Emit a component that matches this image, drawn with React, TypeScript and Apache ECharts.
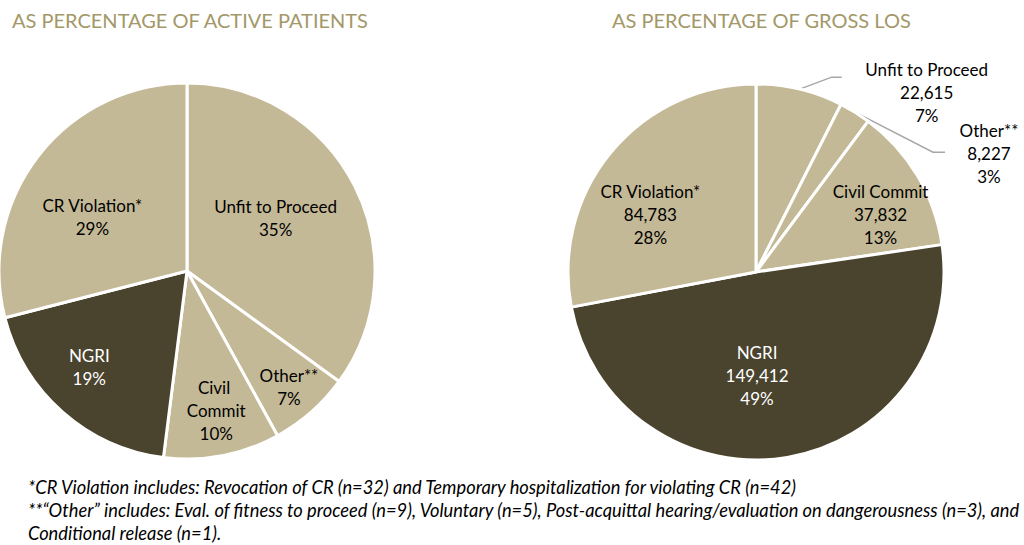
import React, { useEffect, useRef } from "react";
import * as echarts from "echarts";

// ---------- data ----------
const categories = ["Unfit to Proceed", "Other**", "Civil Commit", "NGRI", "CR Violation*"];
const activePatientsPct = [35, 7, 10, 19, 29];
const grossLos = [22615, 8227, 37832, 149412, 84783];
const grossLosPct = [7, 3, 13, 49, 28];
const chartTitles = ["AS PERCENTAGE OF ACTIVE PATIENTS", "AS PERCENTAGE OF GROSS LOS"];
const footnotes = [
  "*CR Violation includes: Revocation of CR (n=32) and Temporary hospitalization for violating CR (n=42)",
  "**\u201cOther\u201d includes: Eval. of fitness to proceed (n=9), Voluntary (n=5), Post-acquittal hearing/evaluation on dangerousness (n=3), and",
  "Conditional release (n=1).",
];

// ---------- styling ----------
const TAN = "#C4B996";
const DARK = "#4A432D";
const sliceColors = [TAN, TAN, TAN, DARK, TAN];
const labelColors = ["#000", "#000", "#000", "#fff", "#000"];
const TITLE_COLOR = "#A39868";
const FONT = "Lato, 'Open Sans', sans-serif";

const PIE_R = 188;
const LEFT_C = [187, 271];
const RIGHT_C = [756, 272];

// inside label placement: [fraction of radius, angle shift (deg)]
const leftPlace: (number[] | null)[] = [[0.55, -4], [0.82, 0], [0.76, -1], [0.73, 4], [0.58, -8]];
const rightPlace: (number[] | null)[] = [null, null, [0.73, 6], [0.55, 9], [0.64, -11]];
// outside labels (right pie): elbow, end of leader, label centre, relative to slice anchor
const rightOutside: Record<number, { elbow: number[]; end: number[]; label: number[] }> = {
  0: { elbow: [32, -12], end: [42, -12], label: [127, 3] },
  1: { elbow: [78, 40], end: [90, 40], label: [134, 41] },
};

function midAngles(values: number[]) {
  const total = values.reduce((a, b) => a + b, 0);
  let cum = 0;
  return values.map((v) => {
    const a = ((cum + v / 2) / total) * Math.PI * 2;
    cum += v;
    return a;
  });
}

function makeLayout(values: number[], c: number[], place: (number[] | null)[], outside: Record<number, any>) {
  const mids = midAngles(values);
  return (params: any) => {
    const i = params.dataIndex;
    const a = mids[i];
    const p = place[i];
    if (p) {
      const ang = a + (p[1] * Math.PI) / 180;
      return {
        x: c[0] + p[0] * PIE_R * Math.sin(ang),
        y: c[1] - p[0] * PIE_R * Math.cos(ang),
        align: "center",
        verticalAlign: "middle",
      };
    }
    const o = outside[i];
    const ax = c[0] + PIE_R * Math.sin(a);
    const ay = c[1] - PIE_R * Math.cos(a);
    return {
      x: ax + o.label[0],
      y: ay + o.label[1],
      align: "center",
      verticalAlign: "middle",
      labelLinePoints: [
        [ax, ay],
        [ax + o.elbow[0], ay + o.elbow[1]],
        [ax + o.end[0], ay + o.end[1]],
      ],
    };
  };
}

export default function App() {
  const ref = useRef<HTMLDivElement>(null);
  useEffect(() => {
    if (!ref.current) return;
    const chart = echarts.init(ref.current, undefined, { renderer: "svg" });

    const leftData = categories.map((name, i) => ({
      name,
      value: activePatientsPct[i],
      itemStyle: { color: sliceColors[i] },
      label: {
        color: labelColors[i],
        ...(name === "Civil Commit" ? { width: 70, overflow: "break" } : {}),
      },
    }));

    const rightData = categories.map((name, i) => ({
      name,
      value: grossLos[i],
      itemStyle: { color: sliceColors[i] },
      label: {
        color: labelColors[i],
        position: rightOutside[i] ? "outside" : "inside",
      },
      labelLine: { show: !!rightOutside[i] },
    }));

    const baseLabel = {
      fontFamily: FONT,
      fontSize: 17,
      lineHeight: 23,
    };

    const titleStyle = { color: TITLE_COLOR, fontFamily: FONT, fontSize: 20, fontWeight: "normal" };

    chart.setOption({
      animation: false,
      backgroundColor: "#fff",
      title: [
        { text: chartTitles[0], left: 7, top: 5, textStyle: titleStyle },
        { text: chartTitles[1], left: 607, top: 5, textStyle: titleStyle },
      ],
      graphic: footnotes.map((t, i) => ({
        type: "text",
        left: 28,
        top: 478 + i * 23,
        style: {
          text: t,
          fill: "#000",
          font: `italic 18.3px ${FONT}`,
        },
      })),
      series: [
        {
          type: "pie",
          center: LEFT_C,
          radius: PIE_R,
          startAngle: 90,
          clockwise: true,
          itemStyle: { borderColor: "#fff", borderWidth: 3 },
          label: {
            ...baseLabel,
            position: "inside",
            formatter: (p: any) => `${p.name}\n${activePatientsPct[p.dataIndex]}%`,
          },
          labelLine: { show: false },
          labelLayout: makeLayout(activePatientsPct, LEFT_C, leftPlace, {}),
          emphasis: { disabled: true },
          data: leftData,
        },
        {
          type: "pie",
          center: RIGHT_C,
          radius: PIE_R,
          startAngle: 90,
          clockwise: true,
          itemStyle: { borderColor: "#fff", borderWidth: 3 },
          label: {
            ...baseLabel,
            formatter: (p: any) =>
              `${p.name}\n${grossLos[p.dataIndex].toLocaleString("en-US")}\n${grossLosPct[p.dataIndex]}%`,
          },
          labelLine: { lineStyle: { color: "#A6A6A6", width: 1.5 } },
          labelLayout: makeLayout(grossLos, RIGHT_C, rightPlace, rightOutside),
          emphasis: { disabled: true },
          data: rightData,
        },
      ],
    });
    return () => chart.dispose();
  }, []);
  return (
    <div
      ref={ref}
      style={{ position: "absolute", left: 0, top: 0, width: 1024, height: 545 }}
    />
  );
}
